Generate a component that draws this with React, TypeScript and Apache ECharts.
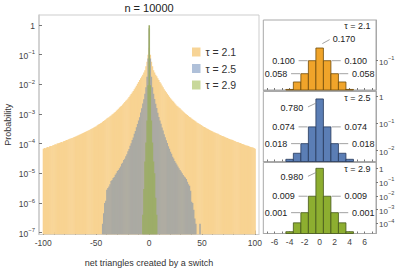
import React, { useEffect, useRef } from 'react';
import * as echarts from 'echarts';

const FONT = '"Liberation Sans", Arial, Helvetica, sans-serif';

const titleText = 'n = 10000';
const xAxisName = 'net triangles created by a switch';
const yAxisName = 'Probability';
const tauLabels = ['τ = 2.1', 'τ = 2.5', 'τ = 2.9'];

const mainXTicks = [-100, -50, 0, 50, 100];
const mainXMinorTicks = [-100, -90, -80, -70, -60, -50, -40, -30, -20, -10, 0, 10, 20, 30, 40, 50, 60, 70, 80, 90, 100];
const mainYTicks = [1, 1e-1, 1e-2, 1e-3, 1e-4, 1e-5, 1e-6, 1e-7];
const insetXLabels = [-6, -4, -2, 0, 2, 4, 6];
const insetXTicks = [-7, -6, -5, -4, -3, -2, -1, 0, 1, 2, 3, 4, 5, 6, 7];
const insetYTicks = [[1e-1], [1, 1e-1, 1e-2], [1, 1e-1, 1e-2, 1e-3, 1e-4]];

// tau = 2.1, bins -100 .. 100
const tau21FirstBin = -100;
const tau21Values = [
  6.8e-5, 7.2e-5, 7.0e-5, 7.5e-5, 7.7e-5, 7.6e-5, 8.2e-5, 8.4e-5, 8.3e-5, 8.9e-5,
  9.1e-5, 9.6e-5, 9.4e-5, 1.01e-4, 1.03e-4, 1.06e-4, 1.10e-4, 1.13e-4, 1.12e-4, 1.20e-4,
  1.24e-4, 1.28e-4, 1.33e-4, 1.35e-4, 1.42e-4, 1.46e-4, 1.50e-4, 1.57e-4, 1.60e-4, 1.68e-4,
  1.72e-4, 1.79e-4, 1.85e-4, 1.92e-4, 2.00e-4, 2.10e-4, 2.15e-4, 2.25e-4, 2.35e-4, 2.42e-4,
  2.55e-4, 2.65e-4, 2.75e-4, 2.85e-4, 2.95e-4, 3.10e-4, 3.25e-4, 3.40e-4, 3.55e-4, 3.70e-4,
  3.90e-4, 4.20e-4, 4.40e-4, 4.60e-4, 4.90e-4, 5.10e-4, 5.50e-4, 5.80e-4, 6.20e-4, 6.50e-4,
  7.00e-4, 7.50e-4, 7.80e-4, 8.40e-4, 9.00e-4, 9.60e-4, 1.03e-3, 1.10e-3, 1.18e-3, 1.30e-3,
  1.40e-3, 1.52e-3, 1.65e-3, 1.78e-3, 1.90e-3, 2.10e-3, 2.30e-3, 2.55e-3, 2.80e-3, 3.05e-3,
  3.35e-3, 3.75e-3, 4.20e-3, 4.75e-3, 5.30e-3, 6.00e-3, 6.80e-3, 7.80e-3, 9.00e-3, 1.04e-2,
  1.20e-2, 1.40e-2, 1.60e-2, 1.85e-2, 2.10e-2, 2.50e-2, 3.00e-2, 4.10e-2, 5.80e-2, 1.00e-1,
  0.170,
  1.00e-1, 5.80e-2, 4.10e-2, 3.00e-2, 2.50e-2, 2.10e-2, 1.88e-2, 1.60e-2, 1.39e-2, 1.20e-2,
  1.06e-2, 9.10e-3, 8.00e-3, 6.90e-3, 6.10e-3, 5.40e-3, 4.80e-3, 4.30e-3, 3.80e-3, 3.40e-3,
  3.10e-3, 2.80e-3, 2.60e-3, 2.30e-3, 2.10e-3, 1.90e-3, 1.80e-3, 1.66e-3, 1.55e-3, 1.42e-3,
  1.32e-3, 1.21e-3, 1.13e-3, 1.05e-3, 9.80e-4, 9.20e-4, 8.50e-4, 7.90e-4, 7.60e-4, 7.10e-4,
  6.70e-4, 6.30e-4, 5.90e-4, 5.60e-4, 5.20e-4, 5.00e-4, 4.70e-4, 4.50e-4, 4.30e-4, 4.00e-4,
  3.80e-4, 3.65e-4, 3.50e-4, 3.30e-4, 3.20e-4, 3.05e-4, 2.90e-4, 2.80e-4, 2.70e-4, 2.60e-4,
  2.45e-4, 2.40e-4, 2.30e-4, 2.20e-4, 2.15e-4, 2.05e-4, 1.95e-4, 1.90e-4, 1.80e-4, 1.78e-4,
  1.70e-4, 1.66e-4, 1.58e-4, 1.55e-4, 1.48e-4, 1.45e-4, 1.38e-4, 1.35e-4, 1.32e-4, 1.26e-4,
  1.23e-4, 1.17e-4, 1.15e-4, 1.12e-4, 1.07e-4, 1.05e-4, 1.02e-4, 9.8e-5, 9.5e-5, 9.3e-5,
  8.9e-5, 8.7e-5, 8.5e-5, 8.3e-5, 7.9e-5, 7.8e-5, 7.6e-5, 7.4e-5, 7.1e-5, 6.7e-5,
];

// tau = 2.5, bins -44 .. 48
const tau25FirstBin = -44;
const tau25Values = [
  2.0e-7, 4.5e-7, 1.0e-6, 1.2e-6, 2.8e-6, 3.2e-6, 3.6e-6, 4.3e-6, 5.5e-6, 6.0e-6,
  7.0e-6, 7.5e-6, 9.0e-6, 1.0e-5, 1.2e-5, 1.3e-5, 1.5e-5, 1.7e-5, 2.1e-5, 2.3e-5,
  2.8e-5, 3.1e-5, 3.8e-5, 4.4e-5, 5.6e-5, 6.6e-5, 8.5e-5, 1.03e-4, 1.32e-4, 1.62e-4,
  2.15e-4, 2.7e-4, 3.6e-4, 4.6e-4, 6.1e-4, 7.8e-4, 1.12e-3, 1.58e-3, 2.25e-3, 3.15e-3,
  4.8e-3, 8.0e-3, 0.018, 0.074,
  0.780,
  0.074, 0.018, 8.0e-3, 4.8e-3, 3.2e-3, 2.2e-3, 1.6e-3, 1.1e-3, 8.0e-4, 6.0e-4,
  4.7e-4, 3.5e-4, 2.8e-4, 2.1e-4, 1.65e-4, 1.3e-4, 1.05e-4, 8.2e-5, 6.8e-5, 5.4e-5,
  4.6e-5, 3.6e-5, 3.2e-5, 2.6e-5, 2.3e-5, 2.0e-5, 1.7e-5, 1.5e-5, 1.3e-5, 1.15e-5,
  1.0e-5, 8.8e-6, 7.8e-6, 7.2e-6, 6.5e-6, 5.2e-6, 4.3e-6, 3.8e-6, 2.6e-6, 1.1e-6,
  1.0e-6, 6.0e-7, 3.0e-7, 2.0e-7, 0, 0, 0, 2.0e-7,
];

// tau = 2.9, bins -6 .. 7
const tau29FirstBin = -6;
const tau29Values = [4e-7, 3e-6, 2.5e-5, 1.1e-4, 6e-4, 9.3e-3, 0.980, 9.3e-3, 6e-4, 1.1e-4, 2.5e-5, 1.0e-5, 1.5e-6, 4e-7];

const seriesFirstBins = [tau21FirstBin, tau25FirstBin, tau29FirstBin];
const seriesValues = [tau21Values, tau25Values, tau29Values];

// styles
const mainColors = ['#F8D392', '#ABAAA3', '#9DAD69'];
const legendColors = ['#F7D496', '#AFC0D9', '#C8D89A'];
const insetFill = ['#F0A42A', '#5B7EB5', '#8DAE30'];
const insetStroke = ['#6E4B0A', '#26395A', '#45571A'];
const textColor = '#333';
const tickLabelColor = '#444';

const toPairs = (first: number, vals: number[]) =>
  vals.map((p, i) => [first + i, p]).filter((d) => d[1] > 0);

const powFormatter = (v: number) => {
  const e = Math.round(Math.log10(v));
  return e === 0 ? '{b|1}' : `{b|10}{s|−${Math.abs(e)}}`;
};
const powRich = (base: number) => ({
  b: { fontSize: base, lineHeight: 11, verticalAlign: 'bottom', fontFamily: FONT, color: tickLabelColor },
  s: { fontSize: base * 0.7, lineHeight: 11, verticalAlign: 'top', fontFamily: FONT, color: tickLabelColor },
});

export default function App() {
  const ref = useRef<HTMLDivElement>(null);
  useEffect(() => {
    if (!ref.current) return;
    const chart = echarts.init(ref.current, undefined, { renderer: 'svg' });

    const mainRange = [Math.pow(10, -7.06), Math.pow(10, 0.337)];
    const insetRanges = [
      [Math.pow(10, -1.533), Math.pow(10, -0.26)],
      [Math.pow(10, -2.399), Math.pow(10, 0.165)],
      [Math.pow(10, -4.732), Math.pow(10, 0.413)],
    ];
    const insetTops = [20, 91.5, 162.5];
    const insetHeights = [70, 70, 71];

    const grids: any[] = [
      { left: 39, top: 15, width: 220, height: 219.5, show: true, borderColor: '#cdcdcd', borderWidth: 1, containLabel: false, outerBoundsMode: 'none' },
    ];
    insetTops.forEach((t, k) => {
      grids.push({ left: 263.3, top: t, width: 112.7, height: insetHeights[k], show: true, borderColor: '#a8a8a8', borderWidth: 1, containLabel: false, outerBoundsMode: 'none' });
    });

    const xAxes: any[] = [
      {
        type: 'value', gridIndex: 0, min: -104, max: 104, position: 'bottom',
        axisLine: { show: true, onZero: false, lineStyle: { color: '#cdcdcd' } },
        axisTick: { show: true, inside: true, length: 4, customValues: mainXTicks, lineStyle: { color: '#777' } },
        axisLabel: { customValues: mainXTicks, fontSize: 8.5, margin: 4, color: tickLabelColor, fontFamily: FONT },
        splitLine: { show: false },
        name: xAxisName, nameLocation: 'middle', nameGap: 24, nameMoveOverlap: false,
        nameTextStyle: { fontSize: 9, fontFamily: FONT, color: textColor },
      },
      {
        type: 'value', gridIndex: 0, min: -104, max: 104, position: 'bottom',
        axisLine: { show: false, onZero: false },
        axisTick: { show: true, inside: true, length: 2.5, customValues: mainXMinorTicks, lineStyle: { color: '#777' } },
        axisLabel: { show: false },
        splitLine: { show: false },
      },
    ];
    const yAxes: any[] = [
      {
        type: 'log', logBase: 10, gridIndex: 0, min: mainRange[0], max: mainRange[1],
        axisLine: { show: true, onZero: false, lineStyle: { color: '#cdcdcd', width: 1.5 } },
        axisTick: { show: true, inside: true, length: 3, customValues: mainYTicks, lineStyle: { color: '#777' } },
        axisLabel: { customValues: mainYTicks, formatter: powFormatter, rich: powRich(8.5), margin: 4 },
        splitLine: { show: false },
        name: yAxisName, nameLocation: 'middle', nameGap: 27, nameMoveOverlap: false,
        nameTextStyle: { fontSize: 9, fontFamily: FONT, color: textColor },
      },
    ];
    for (let k = 0; k < 3; k++) {
      xAxes.push({
        type: 'value', gridIndex: k + 1, min: -7.5, max: 7.5, position: 'bottom',
        axisLine: { show: true, onZero: false, lineStyle: { color: '#a8a8a8' } },
        axisTick: { show: true, inside: true, length: 2, customValues: insetXTicks, lineStyle: { color: '#777' } },
        axisLabel: { show: k === 2, customValues: insetXLabels, fontSize: 8.5, margin: 4, color: tickLabelColor, fontFamily: FONT },
        splitLine: { show: false },
      });
      yAxes.push({
        type: 'log', logBase: 10, gridIndex: k + 1, position: 'right',
        min: insetRanges[k][0], max: insetRanges[k][1],
        axisLine: { show: true, onZero: false, lineStyle: { color: '#a8a8a8' } },
        axisTick: { show: true, inside: false, length: 2, customValues: insetYTicks[k], lineStyle: { color: '#777' } },
        axisLabel: { customValues: insetYTicks[k], formatter: powFormatter, rich: powRich(8), margin: 3 },
        splitLine: { show: false },
      });
    }

    const series: any[] = [];
    // main histograms
    for (let s = 0; s < 3; s++) {
      const color = mainColors[s];
      series.push({
        type: 'custom', name: tauLabels[s], xAxisIndex: 0, yAxisIndex: 0, z: 2 + s, silent: true, clip: true,
        data: toPairs(seriesFirstBins[s], seriesValues[s]),
        encode: { x: 0, y: 1 },
        renderItem: (params: any, api: any) => {
          const x = api.value(0);
          const p = api.value(1);
          const tl = api.coord([x - 0.5, p]);
          const tr = api.coord([x + 0.5, p]);
          const cs = params.coordSys;
          const bottom = cs.y + cs.height;
          return {
            type: 'rect',
            shape: { x: tl[0], y: tl[1], width: tr[0] - tl[0] + 0.5, height: bottom - tl[1] },
            style: { fill: color },
          };
        },
      });
    }
    // insets
    for (let k = 0; k < 3; k++) {
      const fill = insetFill[k];
      const stroke = insetStroke[k];
      const centerRight = k === 0;
      series.push({
        type: 'custom', name: 'inset ' + tauLabels[k], xAxisIndex: k + 2, yAxisIndex: k + 1, z: 5, silent: true,
        data: toPairs(seriesFirstBins[k], seriesValues[k]).filter((d) => Math.abs(d[0]) <= 4),
        encode: { x: 0, y: 1 },
        renderItem: (params: any, api: any) => {
          const x = api.value(0);
          const p = api.value(1);
          const cs = params.coordSys;
          const bottom = cs.y + cs.height;
          const tl = api.coord([x - 0.5, p]);
          const tr = api.coord([x + 0.5, p]);
          const topY = Math.max(tl[1], cs.y);
          const children: any[] = [
            {
              type: 'rect',
              shape: { x: tl[0], y: topY, width: tr[0] - tl[0], height: Math.max(bottom - topY, 0) },
              style: { fill, stroke, lineWidth: 0.8 },
            },
          ];
          const lab = p.toFixed(3);
          const ts = { fontSize: 9, fontFamily: FONT, fill: '#222' };
          if (x === 0) {
            const c = api.coord([0, p]);
            if (centerRight) {
              children.push({ type: 'line', shape: { x1: c[0] + 2.7, y1: c[1] - 4.4, x2: c[0] + 10, y2: c[1] - 8.4 }, style: { stroke: '#8a8a8a', lineWidth: 0.8 } });
              children.push({ type: 'text', x: c[0] + 13, y: c[1] - 8.7, style: { ...ts, text: lab, align: 'left', verticalAlign: 'middle' } });
            } else {
              children.push({ type: 'line', shape: { x1: c[0] - 3.3, y1: c[1] + 4, x2: c[0] - 11.7, y2: c[1] + 8 }, style: { stroke: '#8a8a8a', lineWidth: 0.8 } });
              children.push({ type: 'text', x: c[0] - 16.5, y: c[1] + 9, style: { ...ts, text: lab, align: 'right', verticalAlign: 'middle' } });
            }
          } else if (Math.abs(x) <= 2) {
            const dir = x < 0 ? -1 : 1;
            const edge = dir < 0 ? tl[0] : tr[0];
            children.push({ type: 'line', shape: { x1: edge + dir * 0.8, y1: tl[1], x2: edge + dir * 9.8, y2: tl[1] }, style: { stroke: '#8a8a8a', lineWidth: 0.8 } });
            children.push({ type: 'text', x: edge + dir * 13.5, y: tl[1], style: { ...ts, text: lab, align: dir < 0 ? 'right' : 'left', verticalAlign: 'middle' } });
          }
          return { type: 'group', children };
        },
      });
    }

    const tauLabelYs = [26, 97.5, 168.5];
    const option: any = {
      animation: false,
      textStyle: { fontFamily: FONT },
      grid: grids,
      xAxis: xAxes,
      yAxis: yAxes,
      series,
      legend: {
        orient: 'vertical', left: 192, top: 46.5, itemWidth: 8.5, itemHeight: 9, itemGap: 5.5,
        icon: 'rect', selectedMode: false, padding: 0,
        textStyle: { fontSize: 10.5, fontFamily: FONT, color: textColor, lineHeight: 11 },
        data: tauLabels.map((t, i) => ({ name: t, itemStyle: { color: legendColors[i], borderWidth: 0 } })),
      },
      graphic: [
        { type: 'text', x: 149, y: 8, style: { text: titleText, align: 'center', verticalAlign: 'middle', fontSize: 11, fontFamily: FONT, fill: '#222' } },
        ...tauLabels.map((t, k) => ({
          type: 'text', x: 370.5, y: tauLabelYs[k],
          style: { text: t, align: 'right', verticalAlign: 'middle', fontSize: 9, fontFamily: FONT, fill: '#222' },
        })),
      ],
    };
    chart.setOption(option);
    return () => chart.dispose();
  }, []);

  return <div ref={ref} style={{ position: 'fixed', left: 0, top: 0, width: 407, height: 270, background: '#fff' }} />;
}
